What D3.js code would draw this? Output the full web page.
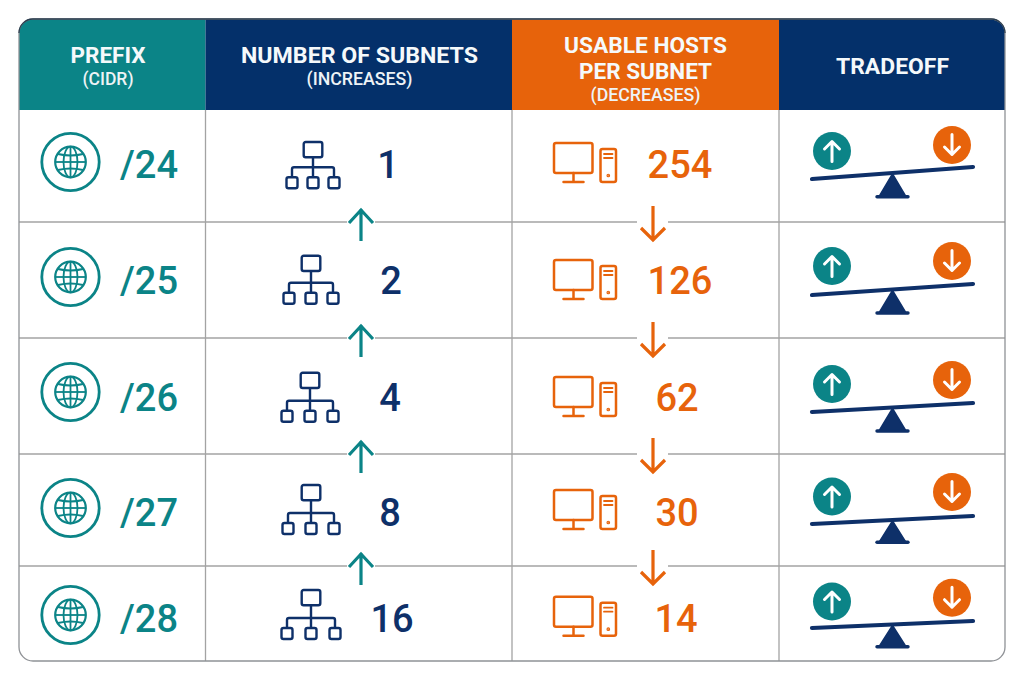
<!DOCTYPE html>
<html><head><meta charset="utf-8">
<script src="https://cdn.jsdelivr.net/npm/d3@7"></script>
<style>html,body{margin:0;background:#fff}svg{display:block}text{font-family:Roboto,sans-serif}</style>
</head><body><svg id="c" width="1024" height="683"></svg>
<script>
const prefixes=["/24","/25","/26","/27","/28"];
const subnets=[1,2,4,8,16];
const hosts=[254,126,62,30,14];
const columnKeys=["prefix","subnets","hosts","tradeoff"];
const headers=[["PREFIX"],["NUMBER OF SUBNETS"],["USABLE HOSTS","PER SUBNET"],["TRADEOFF"]];
const subHeaders=["(CIDR)","(INCREASES)","(DECREASES)",""];

const TEAL="#0b8487",NAVY="#0e3069",ORANGE="#e7630b",GRID="#a3a3a3";
const HEAD=[TEAL,"#04306a",ORANGE,"#04306a"];
const xEdge=d3.scaleOrdinal([0,1,2,3,4],[19,205.5,512,779,1005]);
const yEdge=d3.scaleOrdinal([0,1,2,3,4,5],[110,222,338,454,566,661]);
const cardTop=19;
const rowIdx=d3.range(prefixes.length);
const globeY=d3.scaleOrdinal(rowIdx,[162,277,392,508,615]);
const txtY=d3.scaleOrdinal(rowIdx,[177.5,293.5,410.5,525.5,631.5]);
const netX=d3.scaleOrdinal(rowIdx,[313,311,310,311,311]);
const netY=d3.scaleOrdinal(rowIdx,[142,255.7,372.7,485,590]);
const netW=d3.scaleOrdinal(rowIdx,[26,27,28,28,29]);
const netDrop=d3.scaleOrdinal(rowIdx,[35.3,37,38,38,38]);
const numX=d3.scaleOrdinal(rowIdx,[388,391,390,390,392]);
const pcY=d3.scaleOrdinal(rowIdx,[143,260,377,490,596.7]);
const hostX=d3.scaleOrdinal(rowIdx,[680,680,677,677,676]);
const beamL=d3.scaleOrdinal(rowIdx,[179,295,412,524,628]);
const beamR=d3.scaleOrdinal(rowIdx,[167,284,403,516,621]);
const baseY=d3.scaleOrdinal(rowIdx,[196.7,313,431,542.3,646.7]);
const ballUp=d3.scaleOrdinal(rowIdx,[151,266,384,496.5,601.5]);
const ballDown=d3.scaleOrdinal(rowIdx,[145,261,380,492,597.7]);
const arrowMid=d3.scaleOrdinal(rowIdx,[222,338,454,566]);

const svg=d3.select("#c");
const defs=svg.append("defs");
defs.append("clipPath").attr("id","card").append("rect").attr("x",19).attr("y",cardTop).attr("width",986).attr("height",642).attr("rx",14);
const g=svg.append("g").attr("clip-path","url(#card)");
g.append("rect").attr("x",19).attr("y",cardTop).attr("width",986).attr("height",642).attr("fill","#fff");
g.selectAll("rect.h").data(columnKeys).join("rect").attr("class","h")
 .attr("x",(d,i)=>xEdge(i)).attr("y",cardTop).attr("width",(d,i)=>xEdge(i+1)-xEdge(i)).attr("height",yEdge(0)-cardTop).attr("fill",(d,i)=>HEAD[i]);
// grid
g.selectAll("line.r").data([1,2,3,4]).join("line").attr("class","r").attr("x1",19).attr("x2",1005).attr("y1",d=>yEdge(d)).attr("y2",d=>yEdge(d)).attr("stroke",GRID).attr("stroke-width",1.3);
g.selectAll("line.c").data([1,2,3]).join("line").attr("class","c").attr("x1",d=>xEdge(d)).attr("x2",d=>xEdge(d)).attr("y1",yEdge(0)).attr("y2",661).attr("stroke",GRID).attr("stroke-width",1.3);
svg.append("rect").attr("x",19).attr("y",cardTop).attr("width",986).attr("height",642).attr("rx",14).attr("fill","none").attr("stroke","#8f9296").attr("stroke-width",1.3);
svg.append("path").attr("d","M19 33a14 14 0 0 1 14-14H991a14 14 0 0 1 14 14").attr("fill","none").attr("stroke","#2c3e50").attr("stroke-width",1.3);

// header text
const headCx=[108,359.5,645.5,892.5];
const mainY=[[63],[63],[52.5,79],[73.5]], subY=[85,85,101,0];
const headW={"PREFIX":75,"NUMBER OF SUBNETS":237,"USABLE HOSTS":163,"PER SUBNET":133,"TRADEOFF":113};
const subW={"(CIDR)":51,"(INCREASES)":106,"(DECREASES)":110};
headers.forEach((lines,i)=>{
  lines.forEach((t,j)=>svg.append("text").attr("x",headCx[i]).attr("y",mainY[i][j]).attr("text-anchor","middle").attr("fill","#f5f9fb").attr("font-size",22.5).attr("font-weight",700).attr("textLength",headW[t]).attr("lengthAdjust","spacingAndGlyphs").text(t));
  if(subHeaders[i]) svg.append("text").attr("x",headCx[i]).attr("y",subY[i]).attr("text-anchor","middle").attr("fill","#eef3f6").attr("font-size",17.5).attr("font-weight",500).attr("textLength",subW[subHeaders[i]]).attr("lengthAdjust","spacingAndGlyphs").text(subHeaders[i]);
});

rowIdx.forEach(i=>{
  const gy=globeY(i);
  // globe badge
  const a=svg.append("g").attr("transform",`translate(70.5,${gy})`).attr("fill","none").attr("stroke",TEAL);
  a.append("circle").attr("r",28.7).attr("stroke-width",2.8);
  a.append("circle").attr("r",15.3).attr("stroke-width",2.2);
  a.append("ellipse").attr("rx",7).attr("ry",15.3).attr("stroke-width",1.8);
  a.append("line").attr("y1",-15.3).attr("y2",15.3).attr("stroke-width",1.8);
  a.append("line").attr("x1",-15.3).attr("x2",15.3).attr("stroke-width",1.8);
  a.append("path").attr("d","M-12.5-8Q0-5 12.5-8M-12.5 8Q0 5 12.5 8").attr("stroke-width",1.8);
  svg.append("text").attr("x",120).attr("y",txtY(i)).attr("fill",TEAL).attr("font-size",38).attr("font-weight",500).text(prefixes[i]);

  // network icon
  const w=netW(i),dr=netDrop(i),n=svg.append("g").attr("transform",`translate(${netX(i)},${netY(i)})`).attr("fill","none").attr("stroke",NAVY).attr("stroke-width",2.4);
  n.append("rect").attr("x",-9.3).attr("y",0).attr("width",18.6).attr("height",15.3).attr("rx",2);
  n.append("path").attr("d",`M0 15.3V${dr}M${-w+5} ${dr}V${dr-8}a2 2 0 0 1 2-2H${w-7}a2 2 0 0 1 2 2V${dr}`);
  [-w+5,0,w-5].forEach(x=>n.append("rect").attr("x",x-5.5).attr("y",dr).attr("width",11).attr("height",11).attr("rx",2));
  svg.append("text").attr("x",numX(i)).attr("y",txtY(i)).attr("text-anchor","middle").attr("fill",NAVY).attr("font-size",38).attr("font-weight",500).text(subnets[i]);

  // pc icon
  const p=svg.append("g").attr("transform",`translate(553,${pcY(i)})`).attr("fill","none").attr("stroke",ORANGE).attr("stroke-width",2.5).attr("stroke-linecap","round");
  p.append("rect").attr("x",1).attr("y",0).attr("width",38.5).attr("height",30).attr("rx",2);
  p.append("path").attr("d","M20.5 30V38.5M10.5 39H30.5");
  p.append("rect").attr("x",47.5).attr("y",6).attr("width",15.5).attr("height",33).attr("rx",2);
  p.append("path").attr("d","M51 11H59.5M51 15H59.5").attr("stroke-width",1.8);
  p.append("circle").attr("cx",55.3).attr("cy",32.5).attr("r",0.6).attr("fill",ORANGE);
  svg.append("text").attr("x",hostX(i)).attr("y",txtY(i)).attr("text-anchor","middle").attr("fill",ORANGE).attr("font-size",38).attr("font-weight",500).text(hosts[i]);

  // balance
  const b=svg.append("g");
  const pivotY=(beamL(i)+beamR(i))/2;
  b.append("path").attr("d",`M892.5 ${pivotY+1}L906 ${baseY(i)}H879Z`).attr("fill",NAVY).attr("stroke",NAVY).attr("stroke-width",1.5).attr("stroke-linejoin","round");
  b.append("line").attr("x1",877).attr("x2",908).attr("y1",baseY(i)).attr("y2",baseY(i)).attr("stroke",NAVY).attr("stroke-width",3.4).attr("stroke-linecap","round");
  b.append("line").attr("x1",812).attr("y1",beamL(i)).attr("x2",973).attr("y2",beamR(i)).attr("stroke",NAVY).attr("stroke-width",4.2).attr("stroke-linecap","round");
  const ball=(cx,cy,fill,dir)=>{
    const o=b.append("g").attr("transform",`translate(${cx},${cy})`);
    o.append("circle").attr("r",19).attr("fill",fill);
    o.append("path").attr("d",dir>0?"M0 10.5V-9.5M-7.5-2L0-9.5L7.5-2":"M0-10.5V9.5M-7.5 2L0 9.5L7.5 2").attr("fill","none").attr("stroke","#fff").attr("stroke-width",3).attr("stroke-linecap","round").attr("stroke-linejoin","round");
  };
  ball(832,ballUp(i),TEAL,1);
  ball(952,ballDown(i),ORANGE,-1);
});

// step arrows between rows
d3.range(prefixes.length-1).forEach(i=>{
  const y=arrowMid(i);
  svg.append("rect").attr("x",347).attr("y",y-1.5).attr("width",28).attr("height",3).attr("fill","#fff");
  svg.append("path").attr("d",`M361 ${y+19}V${y-13}M349 ${y+1}L361 ${y-12}L373 ${y+1}`).attr("fill","none").attr("stroke",TEAL).attr("stroke-width",3.2);
  svg.append("rect").attr("x",637).attr("y",y-1.5).attr("width",31).attr("height",3).attr("fill","#fff");
  svg.append("path").attr("d",`M653 ${y-16}V${y+17}M641 ${y+6}L653 ${y+18}L665 ${y+6}`).attr("fill","none").attr("stroke",ORANGE).attr("stroke-width",3.2);
});
</script></body></html>
